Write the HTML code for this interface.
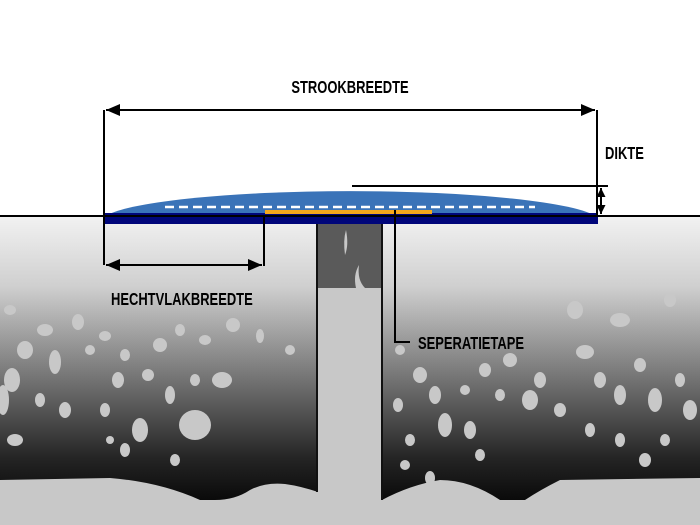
<!DOCTYPE html>
<html><head><meta charset="utf-8"><style>
html,body{margin:0;padding:0;background:#fff;}
svg{display:block;}
text{font-family:"Liberation Sans",sans-serif;font-weight:bold;font-size:18px;fill:#000;}
</style></head><body>
<svg width="700" height="525" viewBox="0 0 700 525" xmlns="http://www.w3.org/2000/svg">
<defs>
<linearGradient id="g" x1="0" y1="216" x2="0" y2="500" gradientUnits="userSpaceOnUse">
<stop offset="0" stop-color="#f2f2f2"/>
<stop offset="0.25" stop-color="#cfcfcf"/>
<stop offset="0.55" stop-color="#7a7a7a"/>
<stop offset="0.85" stop-color="#252525"/>
<stop offset="1" stop-color="#0a0a0a"/>
</linearGradient>
<marker id="a" viewBox="0 0 10 10" refX="10" refY="5" markerWidth="14" markerHeight="12" orient="auto-start-reverse" markerUnits="userSpaceOnUse" preserveAspectRatio="none"><path d="M0,0L10,5L0,10z"/></marker>
<marker id="b" viewBox="0 0 10 10" refX="10" refY="5" markerWidth="9" markerHeight="9" orient="auto-start-reverse" markerUnits="userSpaceOnUse" preserveAspectRatio="none"><path d="M0,0L10,5L0,10z"/></marker>
</defs>
<rect x="0" y="216" width="700" height="309" fill="#c8c8c8"/>
<path d="M0,216H318V492Q300,486 285,484Q265,482 250,490Q235,500 215,500L200,500Q160,482 110,478L0,480Z" fill="url(#g)"/>
<path d="M382,216H700V478L560,480Q540,490 525,500H500Q470,480 440,480Q410,485 382,500Z" fill="url(#g)"/>
<g fill="#c8c8c8">
<ellipse cx="10" cy="310" rx="6" ry="5"/><ellipse cx="45" cy="330" rx="8" ry="6"/><ellipse cx="78" cy="322" rx="6" ry="8"/><ellipse cx="25" cy="350" rx="8" ry="9"/><ellipse cx="55" cy="362" rx="6" ry="12"/><ellipse cx="90" cy="350" rx="5" ry="5"/><ellipse cx="12" cy="380" rx="8" ry="12"/><ellipse cx="40" cy="400" rx="5" ry="7"/><ellipse cx="15" cy="440" rx="8" ry="6"/><ellipse cx="3" cy="400" rx="6" ry="15"/><ellipse cx="65" cy="410" rx="6" ry="8"/>
<ellipse cx="105" cy="336" rx="6" ry="5"/><ellipse cx="125" cy="355" rx="5" ry="6"/><ellipse cx="118" cy="380" rx="6" ry="8"/><ellipse cx="148" cy="375" rx="6" ry="6"/><ellipse cx="160" cy="345" rx="7" ry="7"/><ellipse cx="170" cy="395" rx="5" ry="9"/><ellipse cx="195" cy="380" rx="5" ry="6"/><ellipse cx="180" cy="330" rx="5" ry="6"/><ellipse cx="205" cy="340" rx="6" ry="5"/><ellipse cx="222" cy="380" rx="10" ry="8"/><ellipse cx="233" cy="325" rx="7" ry="7"/><ellipse cx="260" cy="336" rx="4" ry="7"/><ellipse cx="290" cy="350" rx="5" ry="5"/>
<ellipse cx="105" cy="410" rx="5" ry="7"/><ellipse cx="125" cy="450" rx="5" ry="7"/><ellipse cx="140" cy="430" rx="8" ry="12"/><ellipse cx="195" cy="425" rx="16" ry="15"/><ellipse cx="110" cy="440" rx="4" ry="4"/><ellipse cx="175" cy="460" rx="5" ry="6"/>
<ellipse cx="398" cy="405" rx="5" ry="7"/><ellipse cx="410" cy="440" rx="5" ry="6"/><ellipse cx="420" cy="375" rx="7" ry="8"/><ellipse cx="435" cy="395" rx="6" ry="9"/><ellipse cx="445" cy="425" rx="7" ry="12"/><ellipse cx="465" cy="390" rx="5" ry="5"/><ellipse cx="470" cy="430" rx="6" ry="9"/><ellipse cx="480" cy="455" rx="5" ry="6"/><ellipse cx="485" cy="370" rx="6" ry="7"/><ellipse cx="500" cy="395" rx="5" ry="6"/><ellipse cx="510" cy="360" rx="7" ry="7"/><ellipse cx="530" cy="400" rx="8" ry="10"/><ellipse cx="540" cy="380" rx="6" ry="8"/><ellipse cx="560" cy="410" rx="6" ry="7"/><ellipse cx="405" cy="465" rx="5" ry="5"/><ellipse cx="430" cy="478" rx="5" ry="7"/><ellipse cx="400" cy="350" rx="5" ry="5"/>
<ellipse cx="585" cy="352" rx="9" ry="7"/><ellipse cx="600" cy="380" rx="6" ry="8"/><ellipse cx="620" cy="395" rx="6" ry="10"/><ellipse cx="640" cy="365" rx="6" ry="7"/><ellipse cx="655" cy="400" rx="7" ry="12"/><ellipse cx="680" cy="380" rx="5" ry="7"/><ellipse cx="690" cy="410" rx="7" ry="10"/><ellipse cx="620" cy="440" rx="5" ry="7"/><ellipse cx="645" cy="460" rx="6" ry="7"/><ellipse cx="665" cy="440" rx="5" ry="6"/><ellipse cx="590" cy="430" rx="5" ry="7"/><ellipse cx="575" cy="310" rx="8" ry="9"/><ellipse cx="620" cy="320" rx="10" ry="7"/><ellipse cx="670" cy="300" rx="6" ry="7"/>
</g>
<rect x="318" y="224" width="64" height="64" fill="#5a5a5a"/>
<path d="M346,230Q349,245 345,255Q343,240 346,230Z" fill="#c8c8c8"/>
<path d="M359,265Q357,280 365,288H356Q353,275 359,265Z" fill="#c8c8c8"/>
<line x1="317" y1="220" x2="317" y2="492" stroke="#111" stroke-width="2"/>
<line x1="382" y1="220" x2="382" y2="500" stroke="#111" stroke-width="2"/>
<path d="M104,217A250 31 0 0 1 597,217Z" fill="#3a73b8"/>
<rect x="104" y="213" width="494" height="11" fill="#00067a"/>
<line x1="165" y1="207" x2="535" y2="207" stroke="#fff" stroke-width="2.5" stroke-dasharray="9,5"/>
<rect x="265" y="210" width="167" height="4" fill="#f5a81c"/>
<line x1="0" y1="216" x2="700" y2="216" stroke="#000" stroke-width="2"/>
<g stroke="#000" stroke-width="2" fill="none">
<line x1="104" y1="110" x2="104" y2="265"/>
<line x1="597" y1="110" x2="597" y2="216"/>
<line x1="264" y1="216" x2="264" y2="266"/>
<line x1="106" y1="110" x2="595" y2="110" marker-start="url(#a)" marker-end="url(#a)"/>
<line x1="106" y1="265" x2="262" y2="265" marker-start="url(#a)" marker-end="url(#a)"/>
<line x1="352" y1="186" x2="608" y2="186"/>
<line x1="601" y1="188" x2="601" y2="214" marker-start="url(#b)" marker-end="url(#b)"/>
<polyline points="395,210 395,342 410,342"/>
</g>
<text x="350" y="93" text-anchor="middle" transform="translate(350 0) scale(0.72 1) translate(-350 0)">STROOKBREEDTE</text>
<text x="605" y="159" transform="translate(605 0) scale(0.72 1) translate(-605 0)">DIKTE</text>
<text x="111" y="305" transform="translate(111 0) scale(0.72 1) translate(-111 0)">HECHTVLAKBREEDTE</text>
<text x="418" y="349" transform="translate(418 0) scale(0.72 1) translate(-418 0)">SEPERATIETAPE</text>
</svg>
</body></html>
